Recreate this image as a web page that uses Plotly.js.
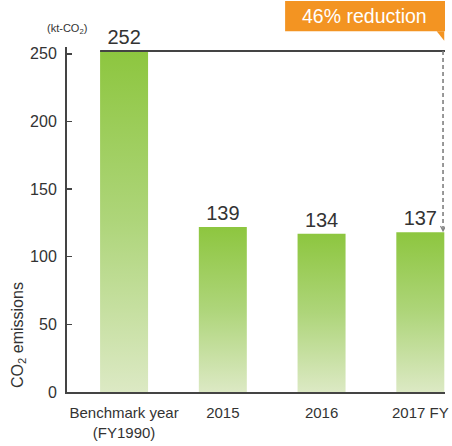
<!DOCTYPE html>
<html>
<head>
<meta charset="utf-8">
<script src="https://cdn.plot.ly/plotly-3.0.1.min.js"></script>
<style>
html,body{margin:0;padding:0;background:#fff;}
#chart{width:452px;height:446px;}
</style>
</head>
<body>
<div id="chart"></div>
<script>
// Categories (x axis)
const categories = ['Benchmark year<br>(FY1990)', '2015', '2016', '2017 FY'];
// Bar heights as drawn in the picture (kt-CO2)
const barHeights = [252, 122, 117, 118];
// Value labels printed above the bars
const valueLabels = ['252', '139', '134', '137'];
// Y axis ticks
const yTicks = [0, 50, 100, 150, 200, 250];
const reductionText = '46% reduction';
const unitText = '(kt-CO<sub>2</sub>)';
const yTitleText = 'CO<sub>2</sub> emissions';

const FONT = '"Liberation Sans", Arial, Helvetica, sans-serif';
const TXT = '#333333';
const AX = '#444444';
const BARW = 0.486;

const lastIdx = categories.length - 1;
const xRight = 3.25;
const dropX = 3.23;

const trace = {
  type: 'bar',
  x: categories,
  y: barHeights,
  width: BARW,
  text: valueLabels,
  textposition: 'outside',
  cliponaxis: false,
  textfont: {family: FONT, size: 20, color: TXT},
  marker: {color: '#a9d26c', line: {width: 0}},
  hoverinfo: 'skip'
};

const layout = {
  width: 452, height: 446,
  margin: {l: 67, r: 7, t: 47, b: 54},
  paper_bgcolor: '#ffffff',
  plot_bgcolor: '#ffffff',
  showlegend: false,
  font: {family: FONT, color: TXT},
  xaxis: {
    type: 'category',
    range: [-0.578, xRight],
    showline: true, linecolor: AX, linewidth: 2,
    ticks: '', showgrid: false, zeroline: false,
    tickfont: {family: FONT, size: 15, color: TXT},
    ticklabelstandoff: 6,
    fixedrange: true
  },
  yaxis: {
    range: [0, 255],
    tickvals: yTicks,
    showline: true, linecolor: AX, linewidth: 2,
    ticks: 'inside', ticklen: 5, tickwidth: 1.5, tickcolor: AX,
    showgrid: false, zeroline: false,
    tickfont: {family: FONT, size: 16, color: TXT},
    ticklabelstandoff: 5,
    fixedrange: true
  },
  shapes: [
    // horizontal reference line at benchmark level
    {type: 'line', xref: 'x', yref: 'y', x0: -BARW / 2, x1: xRight, y0: barHeights[0], y1: barHeights[0],
     line: {color: AX, width: 2}},
    // dashed drop line
    {type: 'line', xref: 'x', yref: 'y', x0: dropX, x1: dropX, y0: barHeights[0], y1: barHeights[lastIdx] + 1,
     line: {color: '#808080', width: 1.6, dash: '4px,3px'}},
    // arrowhead (pixel-sized, anchored at the end of the drop line)
    {type: 'path', xref: 'x', yref: 'y', xsizemode: 'pixel', ysizemode: 'pixel',
     xanchor: dropX, yanchor: barHeights[lastIdx] + 1,
     path: 'M -2.5 5 L 0 0 L 2.5 5', line: {color: '#808080', width: 1.2}},
    // orange box
    {type: 'rect', xref: 'paper', yref: 'paper', x0: 0.577, x1: 1.0, y0: 1.046, y1: 1.133,
     fillcolor: '#F39422', line: {width: 0}, layer: 'above'},
    // box tail
    {type: 'path', xref: 'paper', yref: 'paper', path: 'M 0.978 1.046 L 0.998 1.046 L 0.998 1.018 Z',
     fillcolor: '#F39422', line: {width: 0}, layer: 'above'}
  ],
  annotations: [
    {xref: 'paper', yref: 'paper', x: 0.787, y: 1.09, text: reductionText, showarrow: false,
     font: {family: FONT, size: 19.5, color: '#ffffff'}, xanchor: 'center', yanchor: 'middle'},
    {xref: 'paper', yref: 'paper', x: 0.0, y: 1.052, text: unitText, showarrow: false,
     font: {family: FONT, size: 11, color: TXT}, xanchor: 'center', yanchor: 'middle'},
    {xref: 'paper', yref: 'paper', x: -0.13, y: 0.165, text: yTitleText, showarrow: false, textangle: -90,
     font: {family: FONT, size: 16, color: TXT}, xanchor: 'center', yanchor: 'middle'}
  ]
};

Plotly.newPlot('chart', [trace], layout, {staticPlot: true, displayModeBar: false}).then(function () {
  const svg = document.querySelector('#chart .main-svg');
  const ns = 'http://www.w3.org/2000/svg';
  let defs = svg.querySelector('defs');
  if (!defs) { defs = document.createElementNS(ns, 'defs'); svg.insertBefore(defs, svg.firstChild); }
  const g = document.createElementNS(ns, 'linearGradient');
  g.setAttribute('id', 'barGrad');
  g.setAttribute('x1', '0'); g.setAttribute('y1', '0');
  g.setAttribute('x2', '0'); g.setAttribute('y2', '1');
  [['0', '#8DC63F'], ['0.5', '#AED57A'], ['1', '#DCE9C4']].forEach(function (s) {
    const st = document.createElementNS(ns, 'stop');
    st.setAttribute('offset', s[0]);
    st.setAttribute('stop-color', s[1]);
    g.appendChild(st);
  });
  defs.appendChild(g);
  document.querySelectorAll('#chart .barlayer .point path').forEach(function (p) {
    p.style.fill = 'url(#barGrad)';
  });
});
</script>
</body>
</html>
